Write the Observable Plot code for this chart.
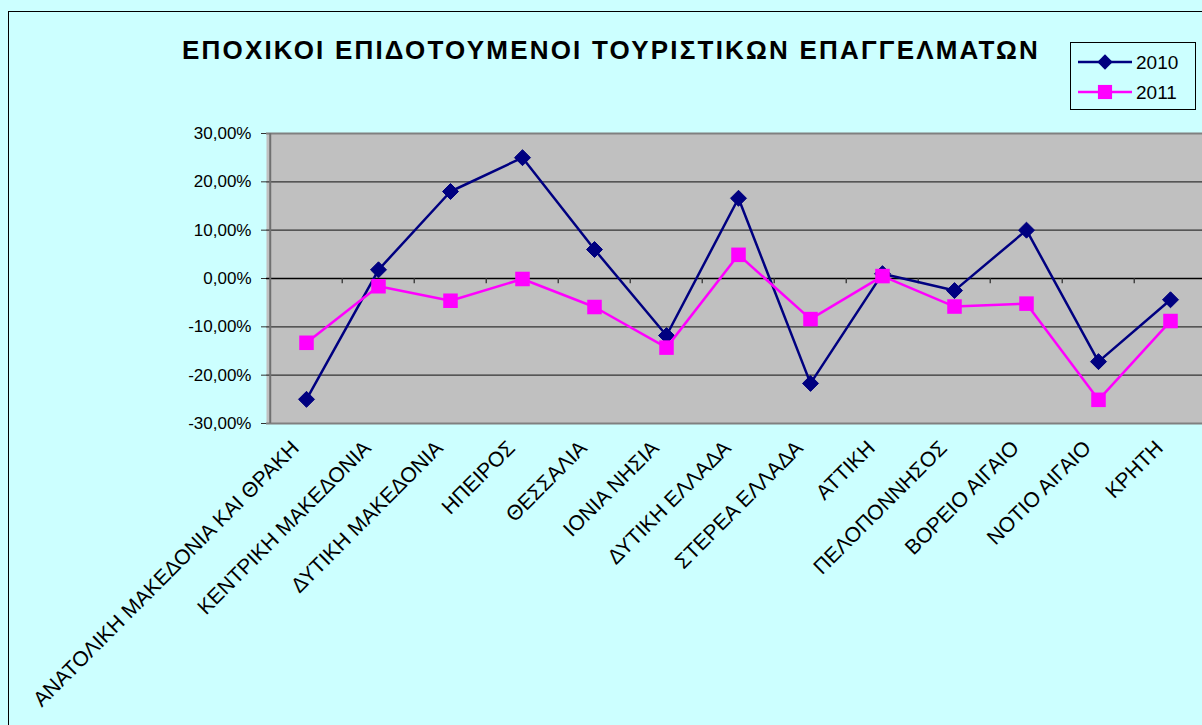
<!DOCTYPE html>
<html>
<head>
<meta charset="utf-8">
<script src="https://cdn.jsdelivr.net/npm/d3@7"></script>
<script src="https://cdn.jsdelivr.net/npm/@observablehq/plot@0.6"></script>
<style>
  html, body { margin: 0; padding: 0; background: #ccffff; overflow: hidden; width: 1202px; height: 725px; }
  #wrap { position: relative; width: 1202px; height: 725px; overflow: hidden; font-family: "Liberation Sans", Arial, sans-serif; }
  #title { position: relative; height: 90px; }
  #title span { position: absolute; left: 0; width: 1222px; text-align: center; top: 37px; font-size: 26px; line-height: 26px; letter-spacing: 2.2px; font-weight: bold; color: #000; white-space: nowrap; }
  #chart { width: 1212px; }
  #chart svg { display: block; max-width: none !important; }
  #border { position: absolute; left: 8px; top: 11px; width: 1300px; height: 900px; border-left: 1.5px solid #000; border-top: 1.5px solid #000; pointer-events: none; }
  #legend { position: absolute; left: 1070px; top: 42px; }
</style>
</head>
<body>
<div id="wrap">
  <div id="title"><span>ΕΠΟΧΙΚΟΙ ΕΠΙΔΟΤΟΥΜΕΝΟΙ ΤΟΥΡΙΣΤΙΚΩΝ ΕΠΑΓΓΕΛΜΑΤΩΝ</span></div>
  <div id="chart"></div>
  <div id="legend"></div>
  <div id="border"></div>
</div>
<script>
const regions = ["ΑΝΑΤΟΛΙΚΗ ΜΑΚΕΔΟΝΙΑ ΚΑΙ ΘΡΑΚΗ","ΚΕΝΤΡΙΚΗ ΜΑΚΕΔΟΝΙΑ","ΔΥΤΙΚΗ ΜΑΚΕΔΟΝΙΑ","ΗΠΕΙΡΟΣ","ΘΕΣΣΑΛΙΑ","ΙΟΝΙΑ ΝΗΣΙΑ","ΔΥΤΙΚΗ ΕΛΛΑΔΑ","ΣΤΕΡΕΑ ΕΛΛΑΔΑ","ΑΤΤΙΚΗ","ΠΕΛΟΠΟΝΝΗΣΟΣ","ΒΟΡΕΙΟ ΑΙΓΑΙΟ","ΝΟΤΙΟ ΑΙΓΑΙΟ","ΚΡΗΤΗ"];
const values2010 = [-0.250, 0.018, 0.180, 0.250, 0.060, -0.118, 0.166, -0.217, 0.010, -0.025, 0.100, -0.172, -0.044];
const values2011 = [-0.133, -0.016, -0.046, -0.001, -0.059, -0.143, 0.049, -0.084, 0.005, -0.058, -0.052, -0.251, -0.088];
const seriesNames = ["2010", "2011"];
const yTicks = [-0.3, -0.2, -0.1, 0, 0.1, 0.2, 0.3];

const data2010 = regions.map((r, i) => ({region: r, value: values2010[i], series: "2010"}));
const data2011 = regions.map((r, i) => ({region: r, value: values2011[i], series: "2011"}));

const fmt = v => {
  const s = (Math.abs(v) * 100).toFixed(2).replace(".", ",") + "%";
  return (v < -1e-9 ? "-" : "") + s;
};

const W = 1212, H = 635, mL = 266, mR = 3, mT = 43, mB = 302;
const bw = (W - mL - mR) / regions.length;

const chart = Plot.plot({
  width: W, height: H,
  marginLeft: mL, marginRight: mR, marginTop: mT, marginBottom: mB,
  style: {background: "transparent", fontFamily: "'Liberation Sans', Arial, sans-serif", fontSize: "17px", overflow: "visible", maxWidth: "none"},
  x: {type: "band", domain: regions, padding: 0},
  y: {domain: [-0.3, 0.3]},
  marks: [
    Plot.frame({fill: "#c0c0c0", stroke: null}),
    Plot.ruleY(yTicks.filter(v => v !== 0 && Math.abs(v) < 0.3), {stroke: "#333", strokeWidth: 1.3}),
    Plot.ruleY([0.3, -0.3], {stroke: "#808080", strokeWidth: 2}),
    Plot.ruleY([0], {stroke: "#000", strokeWidth: 1.3}),
    Plot.ruleX(regions.slice(1), {x: d => d, dx: -bw / 2, y1: 0, y2: -0.011, stroke: "#333", strokeWidth: 1.3}),
    Plot.axisY({ticks: yTicks, tickFormat: fmt, tickSize: 5, tickPadding: 10, fontSize: 17, stroke: "#333", color: "#000", label: null}),
    Plot.ruleX([regions[0]], {x: d => d, dx: -bw / 2, y1: -0.3, y2: 0.3, stroke: "#707070", strokeWidth: 2}),
    Plot.axisX({tickSize: 0, tickRotate: -45, tickPadding: 10, fontSize: 21, dx: -11, dy: 11, color: "#000", label: null}),
    Plot.line(data2010, {x: "region", y: "value", stroke: "#000080", strokeWidth: 2.5}),
    Plot.dot(data2010, {x: "region", y: "value", symbol: "diamond2", r: 7.2, fill: "#000080", stroke: "#000080", strokeWidth: 1}),
    Plot.line(data2011, {x: "region", y: "value", stroke: "#ff00ff", strokeWidth: 2.5}),
    Plot.dot(data2011, {x: "region", y: "value", symbol: "square", r: 8.2, fill: "#ff00ff", stroke: null})
  ]
});
document.getElementById("chart").appendChild(chart);

// Legend
const colors = {"2010": "#000080", "2011": "#ff00ff"};
const symbols = {"2010": d3.symbolDiamond2, "2011": d3.symbolSquare};
const sizes = {"2010": 150, "2011": 200};
const lg = d3.select("#legend").append("svg").attr("width", 127).attr("height", 69);
lg.append("rect").attr("x", 0.5).attr("y", 0.5).attr("width", 125).attr("height", 67)
  .attr("fill", "#ccffff").attr("stroke", "#000").attr("stroke-width", 1);
seriesNames.forEach((s, i) => {
  const y = 20 + i * 30;
  lg.append("line").attr("x1", 8).attr("x2", 62).attr("y1", y).attr("y2", y)
    .attr("stroke", colors[s]).attr("stroke-width", 2.5);
  lg.append("path").attr("d", d3.symbol(symbols[s], sizes[s])()).attr("transform", `translate(35,${y})`)
    .attr("fill", colors[s]);
  lg.append("text").attr("x", 66).attr("y", y + 6.5).attr("font-size", 19)
    .attr("font-family", "'Liberation Sans', Arial, sans-serif").text(s);
});
</script>
</body>
</html>
